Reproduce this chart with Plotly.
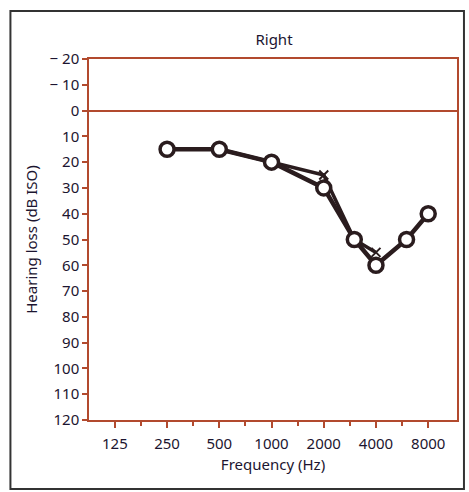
import plotly.graph_objects as go

# Data
freq_air = [250, 500, 1000, 2000, 3000, 4000, 6000, 8000]
loss_air = [15, 15, 20, 30, 50, 60, 50, 40]
freq_x = [500, 1000, 2000, 3000, 4000]
loss_x = [15, 20, 25, 50, 55]
xtick_vals = [125, 250, 500, 1000, 2000, 4000, 8000]
xtick_text = ["125", "250", "500", "1000", "2000", "4000", "8000"]
xminor_vals = [177, 354, 707, 1414, 2828, 5657]
ytick_vals = [-20, -10, 0, 10, 20, 30, 40, 50, 60, 70, 80, 90, 100, 110, 120]
ytick_text = ["\u2212 20", "\u2212 10"] + [str(v) for v in ytick_vals[2:]]

INK = "#2a1c1e"
AXIS = "#b24a2e"
TEXT = "#1c1530"
FONT = "Noto Sans"

fig = go.Figure()
fig.add_trace(go.Scatter(
    x=freq_x, y=loss_x, mode="lines+markers",
    line=dict(color=INK, width=3.5),
    marker=dict(symbol="x-thin-open", size=9, line=dict(color=INK, width=2)),
    showlegend=False, hoverinfo="skip"))
fig.add_trace(go.Scatter(
    x=freq_air, y=loss_air, mode="lines+markers",
    line=dict(color=INK, width=4.5),
    marker=dict(symbol="circle", size=14, color="white", line=dict(color=INK, width=3.5)),
    showlegend=False, hoverinfo="skip"))

fig.update_layout(
    width=469, height=492,
    margin=dict(l=89, r=10, t=59, b=72),
    paper_bgcolor="white", plot_bgcolor="white",
    font=dict(family=FONT, size=15, color=TEXT),
    title=dict(text="Right", x=(89 + 185) / 469, xanchor="center", y=1 - 40 / 492,
               yanchor="middle", font=dict(size=15, color=TEXT)),
    xaxis=dict(
        type="log", range=[1.948, 4.069],
        tickmode="array", tickvals=xtick_vals, ticktext=xtick_text,
        ticks="outside", ticklen=6, tickwidth=1.5, tickcolor=AXIS,
        ticklabelstandoff=3,
        minor=dict(tickmode="array", tickvals=xminor_vals, ticks="outside",
                   ticklen=4, tickwidth=1.5, tickcolor=AXIS, showgrid=False),
        showgrid=False, zeroline=False,
        showline=True, linecolor=AXIS, linewidth=1.5, mirror=True,
        title=dict(text="Frequency (Hz)", standoff=8, font=dict(size=15)),
        tickfont=dict(size=15),
    ),
    yaxis=dict(
        range=[120, -20], autorange=False,
        tickmode="array", tickvals=ytick_vals, ticktext=ytick_text,
        ticks="outside", ticklen=5, tickwidth=1.5, tickcolor=AXIS,
        showgrid=False, zeroline=True, zerolinecolor=AXIS, zerolinewidth=1.5,
        showline=True, linecolor=AXIS, linewidth=1.5, mirror=True,
        title=dict(text="Hearing loss (dB ISO)", standoff=8, font=dict(size=15)),
        tickfont=dict(size=15),
    ),
    shapes=[dict(type="rect", xref="paper", yref="paper",
                 x0=(10 - 89) / 370, x1=(466 - 89) / 370,
                 y0=(420 - 489) / 361, y1=(420 - 11) / 361,
                 line=dict(color="#333333", width=2), layer="below")],
)

fig.write_html("out.html", config={"displayModeBar": False},
               post_script="document.body.style.margin='0px';")
